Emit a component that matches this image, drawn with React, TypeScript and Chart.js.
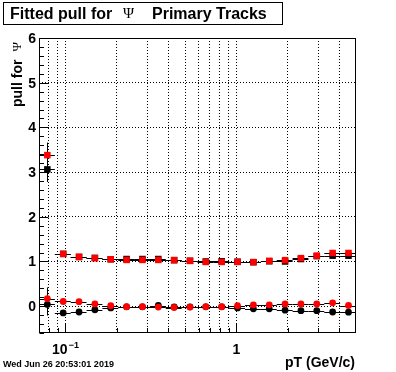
import React, { useEffect, useRef } from "react";
import { Chart, registerables } from "chart.js";

Chart.register(...registerables);

// ---- data ----
const binEdges = [
  0.07, 0.08665, 0.10727, 0.13279, 0.16438, 0.20349, 0.2519, 0.31183, 0.38602,
  0.47786, 0.59155, 0.73229, 0.90651, 1.12219, 1.38918, 1.71969, 2.12884,
  2.63533, 3.26231, 4.03848, 5.0,
];

const blackSquares = [
  3.06, 1.17, 1.1, 1.08, 1.05, 1.055, 1.055, 1.055, 1.03, 1.015, 1.0, 1.005,
  0.995, 0.985, 1.005, 1.0, 1.055, 1.12, 1.13, 1.13,
];
const blackSquaresErr = [
  0.28, 0.03, 0.03, 0.02, 0.02, 0.02, 0.02, 0.02, 0.02, 0.02, 0.02, 0.02, 0.02,
  0.02, 0.02, 0.02, 0.02, 0.03, 0.03, 0.03,
];
const redSquares = [
  3.38, 1.17, 1.105, 1.075, 1.05, 1.035, 1.035, 1.035, 1.03, 1.015, 0.99, 0.99,
  0.99, 0.985, 1.015, 1.03, 1.075, 1.13, 1.19, 1.19,
];
const redSquaresErr = [
  0.28, 0.03, 0.03, 0.02, 0.02, 0.02, 0.02, 0.02, 0.02, 0.02, 0.02, 0.02, 0.02,
  0.02, 0.02, 0.02, 0.02, 0.03, 0.03, 0.03,
];
const blackCircles = [
  0.04, -0.15, -0.13, -0.08, -0.04, -0.015, -0.015, 0.015, -0.015, -0.015,
  -0.015, -0.015, -0.04, -0.06, -0.06, -0.09, -0.1, -0.1, -0.13, -0.135,
];
const blackCirclesErr = [
  0.25, 0.03, 0.03, 0.02, 0.02, 0.02, 0.02, 0.02, 0.02, 0.02, 0.02, 0.02, 0.02,
  0.02, 0.02, 0.02, 0.02, 0.03, 0.03, 0.03,
];
const redCircles = [
  0.17, 0.105, 0.1, 0.05, 0.01, -0.01, -0.01, -0.02, -0.03, -0.02, -0.01, -0.01,
  0.01, 0.03, 0.03, 0.05, 0.05, 0.05, 0.075, 0.015,
];
const redCirclesErr = [
  0.25, 0.03, 0.03, 0.02, 0.02, 0.02, 0.02, 0.02, 0.02, 0.02, 0.02, 0.02, 0.02,
  0.02, 0.02, 0.02, 0.02, 0.03, 0.03, 0.03,
];

const xMin = 0.07;
const xMax = 5;
const yMin = -0.6;
const yMax = 6;

const xGridValues = [0.08, 0.09, 0.1, 0.2, 0.3, 0.4, 0.5, 0.6, 0.7, 0.8, 0.9, 1, 2, 3, 4];
const xMajorTicks = [0.1, 1];
const yMajorTicks = [0, 1, 2, 3, 4, 5, 6];
const yMinorStep = 0.2;
const yTickLabels = ["0", "1", "2", "3", "4", "5", "6"];

const titleParts = ["Fitted pull for", "\u03A8", "Primary Tracks"];
const yTitleParts = ["pull for", "\u03A8"];
const xTitle = "pT (GeV/c)";
const dateText = "Wed Jun 26 20:53:01 2019";

const SANS = '"Liberation Sans", Arial, Helvetica, sans-serif';
const SERIF = '"Liberation Serif", "DejaVu Serif", serif';

function makePoints(vals: number[], errs: number[]) {
  return vals.map((y, i) => ({
    x: (binEdges[i] + binEdges[i + 1]) / 2,
    y,
    xLo: binEdges[i],
    xHi: binEdges[i + 1],
    yErr: errs[i],
  }));
}

const errorBarPlugin = {
  id: "errorBars",
  beforeDatasetsDraw(chart: any) {
    const { ctx, scales, chartArea } = chart;
    const xs = scales.x;
    const ys = scales.y;
    ctx.save();
    ctx.beginPath();
    ctx.rect(chartArea.left, chartArea.top, chartArea.right - chartArea.left, chartArea.bottom - chartArea.top);
    ctx.clip();
    ctx.strokeStyle = "#000";
    ctx.lineWidth = 1;
    const sets = chart.data.datasets.slice().reverse();
    for (const ds of sets) {
      for (const p of ds.data as any[]) {
        const px = Math.round(xs.getPixelForValue(p.x)) + 0.5;
        const py = Math.round(ys.getPixelForValue(p.y)) + 0.5;
        const x0 = xs.getPixelForValue(p.xLo);
        const x1 = xs.getPixelForValue(p.xHi);
        const y0 = ys.getPixelForValue(p.y - p.yErr);
        const y1 = ys.getPixelForValue(p.y + p.yErr);
        ctx.beginPath();
        ctx.moveTo(x0, py);
        ctx.lineTo(x1, py);
        ctx.moveTo(px, y0);
        ctx.lineTo(px, y1);
        ctx.stroke();
      }
    }
    ctx.restore();
  },
};

const framePlugin = {
  id: "rootFrame",
  beforeDraw(chart: any) {
    const { ctx, width, height } = chart;
    ctx.save();
    ctx.fillStyle = "#fff";
    ctx.fillRect(0, 0, width, height);
    ctx.restore();
  },
  afterDraw(chart: any) {
    const { ctx, chartArea, scales } = chart;
    const xs = scales.x;
    const ys = scales.y;
    const L = chartArea.left;
    const R = chartArea.right;
    const T = chartArea.top;
    const B = chartArea.bottom;
    ctx.save();
    ctx.strokeStyle = "#000";
    ctx.fillStyle = "#000";
    ctx.lineWidth = 1;
    // frame
    ctx.strokeRect(Math.round(L) + 0.5, Math.round(T) + 0.5, Math.round(R - L) - 1, Math.round(B - T) - 1);

    // y ticks (inside, left)
    const lx = Math.round(L) + 0.5;
    ctx.beginPath();
    const nMinor = Math.round((yMax - yMin) / yMinorStep);
    for (let k = 0; k <= nMinor; k++) {
      const v = yMin + k * yMinorStep;
      const isMajor = Math.abs(v - Math.round(v)) < 1e-6;
      const py = Math.round(ys.getPixelForValue(v)) + 0.5;
      ctx.moveTo(lx, py);
      ctx.lineTo(lx + (isMajor ? 9 : 4.5), py);
    }
    // x ticks (inside, bottom)
    const by = Math.round(B) - 0.5;
    for (const v of xGridValues) {
      const isMajor = xMajorTicks.includes(v);
      const px = Math.round(xs.getPixelForValue(v)) + 0.5;
      ctx.moveTo(px, by);
      ctx.lineTo(px, by - (isMajor ? 9 : 4.5));
    }
    ctx.stroke();

    // y tick labels
    ctx.font = `bold 14px ${SANS}`;
    ctx.textAlign = "right";
    ctx.textBaseline = "middle";
    yMajorTicks.forEach((v, i) => {
      ctx.fillText(yTickLabels[i], L - 3, ys.getPixelForValue(v) + 1);
    });

    // x tick labels
    ctx.textBaseline = "alphabetic";
    const xlBase = B + 21;
    {
      const px = xs.getPixelForValue(0.1);
      ctx.font = `bold 14px ${SANS}`;
      const w1 = ctx.measureText("10").width;
      ctx.font = `bold 9px ${SANS}`;
      const w2 = ctx.measureText("\u22121").width;
      const start = px - (w1 + w2 + 1) / 2;
      ctx.textAlign = "left";
      ctx.font = `bold 14px ${SANS}`;
      ctx.fillText("10", start, xlBase);
      ctx.font = `bold 9px ${SANS}`;
      ctx.fillText("\u22121", start + w1 + 1, xlBase - 6);
    }
    ctx.font = `bold 14px ${SANS}`;
    ctx.textAlign = "center";
    ctx.fillText("1", xs.getPixelForValue(1), xlBase);

    // x title
    ctx.textAlign = "right";
    ctx.font = `bold 14px ${SANS}`;
    ctx.fillText(xTitle, R - 1, 367);

    // y title (rotated)
    ctx.save();
    ctx.translate(22, T + 4);
    ctx.rotate(-Math.PI / 2);
    ctx.textAlign = "right";
    ctx.font = `13px ${SERIF}`;
    const psiW = ctx.measureText(yTitleParts[1]).width;
    ctx.fillText(yTitleParts[1], 0, -1);
    ctx.font = `bold 14px ${SANS}`;
    ctx.fillText(yTitleParts[0], -psiW - 8, 0);
    ctx.restore();

    // title box
    ctx.strokeRect(3.5, 2.5, 279, 22);
    ctx.textAlign = "left";
    ctx.font = `bold 16px ${SANS}`;
    ctx.fillText(titleParts[0], 10, 19);
    ctx.font = `15px ${SERIF}`;
    ctx.fillText(titleParts[1], 123, 18);
    ctx.font = `bold 16px ${SANS}`;
    ctx.fillText(titleParts[2], 152, 19);

    // date
    ctx.font = `bold 9px ${SANS}`;
    ctx.fillText(dateText, 3, 367);
    ctx.restore();
  },
};

export default function App() {
  const ref = useRef<HTMLCanvasElement>(null);
  useEffect(() => {
    const canvas = ref.current;
    if (!canvas) return;
    const chart = new Chart(canvas, {
      type: "scatter",
      data: {
        datasets: [
          {
            label: "red circles",
            data: makePoints(redCircles, redCirclesErr) as any,
            pointStyle: "circle",
            pointRadius: 3.4,
            backgroundColor: "#ff0000",
            borderWidth: 0,
          },
          {
            label: "black circles",
            data: makePoints(blackCircles, blackCirclesErr) as any,
            pointStyle: "circle",
            pointRadius: 3.4,
            backgroundColor: "#000000",
            borderWidth: 0,
          },
          {
            label: "red squares",
            data: makePoints(redSquares, redSquaresErr) as any,
            pointStyle: "rect",
            pointRadius: 4.6,
            backgroundColor: "#ff0000",
            borderWidth: 0,
          },
          {
            label: "black squares",
            data: makePoints(blackSquares, blackSquaresErr) as any,
            pointStyle: "rect",
            pointRadius: 4.6,
            backgroundColor: "#000000",
            borderWidth: 0,
          },
        ],
      },
      options: {
        responsive: false,
        animation: false,
        events: [],
        layout: { padding: { left: 39, top: 38, right: 40, bottom: 39 } },
        plugins: {
          legend: { display: false },
          tooltip: { enabled: false },
          title: { display: false },
        },
        scales: {
          x: {
            type: "logarithmic",
            min: xMin,
            max: xMax,
            ticks: { display: false },
            grid: { drawTicks: false, color: "#000", lineWidth: 1 },
            border: { display: false, dash: [1, 2] },
            afterBuildTicks: (s: any) => {
              s.ticks = xGridValues.map((v) => ({ value: v }));
            },
          },
          y: {
            type: "linear",
            min: yMin,
            max: yMax,
            ticks: { display: false },
            grid: { drawTicks: false, color: "#000", lineWidth: 1 },
            border: { display: false, dash: [1, 2] },
            afterBuildTicks: (s: any) => {
              s.ticks = yMajorTicks.map((v) => ({ value: v }));
            },
          },
        },
      },
      plugins: [errorBarPlugin, framePlugin],
    });
    return () => chart.destroy();
  }, []);
  return (
    <div style={{ position: "absolute", left: 0, top: 0, width: 396, height: 372, background: "#fff" }}>
      <canvas ref={ref} width={396} height={372} style={{ display: "block", width: 396, height: 372 }} />
    </div>
  );
}
